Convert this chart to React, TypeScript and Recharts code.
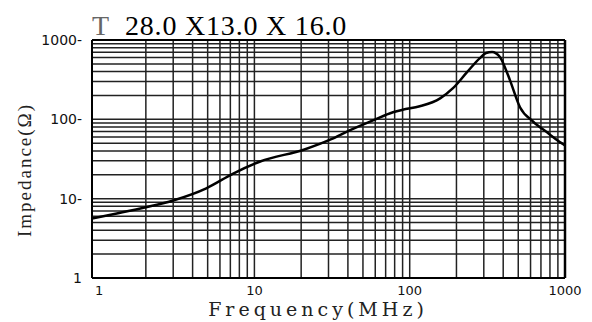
import { LineChart, Line, XAxis, YAxis, ReferenceLine } from "recharts";

const freqs = [0.9, 1.3, 2, 3, 4.9, 7.3, 10.9, 21, 31, 41, 58, 78, 90, 116, 157, 190, 234, 283, 310, 339, 381, 410, 442, 513, 622, 766, 956, 1000];
const impedances = [5.6, 6.5, 7.8, 9.5, 13.5, 20.7, 29.4, 41.7, 55.8, 72.6, 97, 122.7, 132, 146, 184, 247, 393, 592, 685, 705, 609, 455, 312, 142, 94, 68.5, 49.7, 47];

const xTicks = [1, 10, 100, 1000];
const yTicks = [1, 10, 100, 1000];
const xGrid = [2, 3, 4, 5, 6, 7, 8, 9, 10, 20, 30, 40, 50, 60, 70, 80, 90, 100, 200, 300, 400, 500, 600, 700, 800, 900];
const yGrid = [2, 3, 4, 5, 6, 7, 8, 9, 10, 20, 30, 40, 50, 60, 70, 80, 90, 100, 200, 300, 400, 500, 600, 700, 800, 900];

const data = freqs.map((f, i) => ({ freq: f, imp: impedances[i] }));

const gridColor = "#222";

export default function App() {
  return (
    <div style={{ position: "relative", width: 592, height: 322, background: "#fff", overflow: "hidden" }}>
      <style>{`body{margin:0}`}</style>
      <LineChart width={592} height={322} data={data} margin={{ top: 40, right: 27, bottom: 0, left: 0 }}>
        <XAxis
          dataKey="freq"
          type="number"
          scale="log"
          domain={[0.9, 1000]}
          ticks={xTicks}
          allowDataOverflow
          height={44}
          tickLine={false}
          axisLine={{ stroke: "#000", strokeWidth: 2 }}
          tickMargin={2}
          tick={{ fill: "#111", fontSize: 13, fontFamily: "DejaVu Sans" }}
        />
        <YAxis
          type="number"
          scale="log"
          domain={[1, 1000]}
          ticks={yTicks}
          allowDataOverflow
          width={92}
          tickLine={false}
          axisLine={{ stroke: "#000", strokeWidth: 2 }}
          tickMargin={4}
          tick={{ fill: "#111", fontSize: 14, fontFamily: "DejaVu Sans" }}
          tickFormatter={(v: number) => (v === 1 ? "1" : `${v}-`)}
        />
        {xGrid.map((v) => (
          <ReferenceLine key={`x${v}`} x={v} stroke={gridColor} strokeWidth={1.5} />
        ))}
        {yGrid.map((v) => (
          <ReferenceLine key={`y${v}`} y={v} stroke={gridColor} strokeWidth={1.5} />
        ))}
        <ReferenceLine x={1000} stroke="#000" strokeWidth={2.5} />
        <ReferenceLine y={1000} stroke="#000" strokeWidth={2} />
        <Line
          type="monotone"
          dataKey="imp"
          stroke="#000"
          strokeWidth={2.5}
          dot={false}
          isAnimationActive={false}
        />
      </LineChart>
      <div
        style={{
          position: "absolute",
          left: 92,
          top: 10,
          fontFamily: "Liberation Serif",
          fontSize: 28,
          lineHeight: "32px",
          whiteSpace: "pre",
          letterSpacing: 0.8,
          color: "#000",
        }}
      >
        <span style={{ color: "#666" }}>T</span>
        {"  28.0 X13.0 X 16.0"}
      </div>
      <div
        style={{
          position: "absolute",
          left: 25,
          top: 170,
          transform: "translate(-50%, -50%) rotate(-90deg)",
          fontFamily: "Liberation Serif",
          fontSize: 19,
          whiteSpace: "nowrap",
          letterSpacing: 2,
          color: "#222",
        }}
      >
        Impedance(Ω)
      </div>
      <div
        style={{
          position: "absolute",
          left: 318,
          top: 309,
          transform: "translate(-50%, -50%)",
          fontFamily: "DejaVu Serif",
          fontSize: 19,
          lineHeight: "22px",
          whiteSpace: "nowrap",
          letterSpacing: 4,
          color: "#222",
        }}
      >
        Frequency(MHz)
      </div>
    </div>
  );
}
